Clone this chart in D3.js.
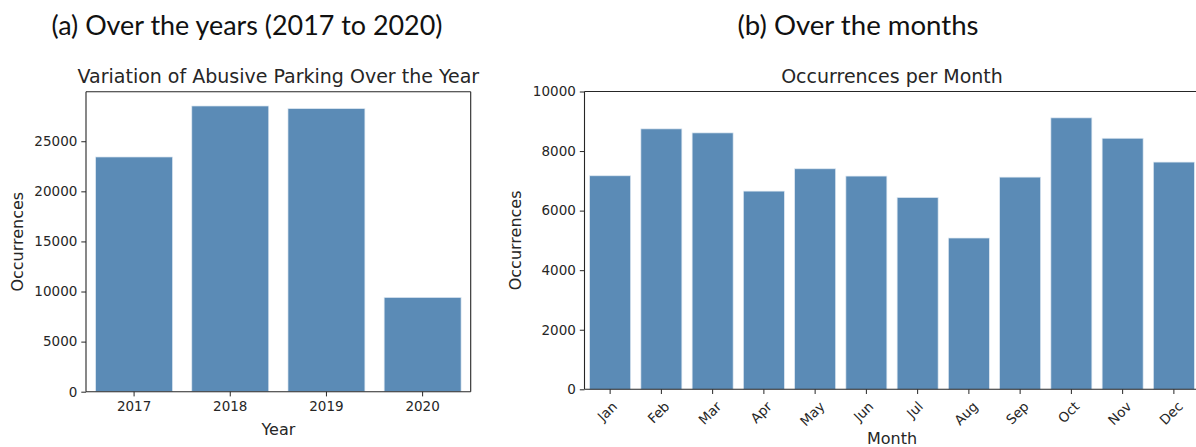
<!DOCTYPE html>
<html>
<head>
<meta charset="utf-8">
<script src="https://cdn.jsdelivr.net/npm/d3@7/dist/d3.min.js"></script>
<style>
  html, body { margin: 0; padding: 0; background: #fff; }
  svg { display: block; }
  .tick text { font-family: "DejaVu Sans", sans-serif; fill: #262626; }
</style>
</head>
<body>
<svg id="fig" width="1196" height="447"></svg>
<script>
// Yearly totals
const years = ["2017", "2018", "2019", "2020"];
const yearCounts = [23430, 28520, 28260, 9410];
const yearTicks = [0, 5000, 10000, 15000, 20000, 25000];

// Monthly totals
const months = ["Jan", "Feb", "Mar", "Apr", "May", "Jun", "Jul", "Aug", "Sep", "Oct", "Nov", "Dec"];
const monthCounts = [7170, 8745, 8610, 6655, 7405, 7160, 6440, 5080, 7125, 9115, 8430, 7630];
const monthTicks = [0, 2000, 4000, 6000, 8000, 10000];

const BAR = "#5b8bb6";
const INK = "#262626";
const svg = d3.select("#fig");

function panel(opts) {
  const { x0, x1, y0, y1, cats, vals, yMax, ticks, title, xLabel, xLabelY,
          yLabelX, rotate, rightSpine } = opts;
  const g = svg.append("g");

  const x = d3.scaleBand().domain(cats).range([x0, x1])
    .paddingInner(0.2).paddingOuter(0.1);
  const y = d3.scaleLinear().domain([0, yMax]).range([y1, y0]);

  // bars
  g.selectAll("rect.bar").data(cats).join("rect")
    .attr("class", "bar")
    .attr("x", d => x(d))
    .attr("width", x.bandwidth())
    .attr("y", (d, i) => y(vals[i]))
    .attr("height", (d, i) => y(0) - y(vals[i]))
    .attr("fill", BAR)
    .attr("stroke", "#dfe9f2")
    .attr("stroke-width", 0.7);

  // y axis
  const ya = g.append("g").attr("transform", `translate(${x0},0)`)
    .call(d3.axisLeft(y).tickValues(ticks).tickSize(4.7).tickPadding(4).tickFormat(d3.format("d")));
  ya.select(".domain").remove();
  ya.selectAll(".tick line").attr("stroke", INK).attr("stroke-width", 1);
  ya.selectAll(".tick text").attr("font-size", 13.5);

  // x axis
  const xa = g.append("g").attr("transform", `translate(0,${y1})`)
    .call(d3.axisBottom(x).tickSize(4.7).tickPadding(5));
  xa.select(".domain").remove();
  xa.selectAll(".tick line").attr("stroke", INK).attr("stroke-width", 1);
  xa.selectAll(".tick text").attr("font-size", 13.5);

  if (rotate) {
    xa.selectAll(".tick text").each(function () {
      const t = d3.select(this);
      const w = this.getComputedTextLength();
      const h = 10;
      const half = (w + h) * Math.SQRT1_2 / 2;
      t.attr("text-anchor", "middle")
        .attr("dy", null)
        .attr("dominant-baseline", "central")
        .attr("y", 0)
        .attr("transform", `translate(-3,${11 + half}) rotate(-45)`);
    });
  }

  // spines
  const sp = g.append("g").attr("fill", "none").attr("stroke", INK).attr("stroke-width", 1.1);
  sp.append("line").attr("x1", x0).attr("x2", x0).attr("y1", y0).attr("y2", y1);
  sp.append("line").attr("x1", x0).attr("x2", x1).attr("y1", y1).attr("y2", y1);
  sp.append("line").attr("x1", x0).attr("x2", x1).attr("y1", y0).attr("y2", y0);
  if (rightSpine) sp.append("line").attr("x1", x1).attr("x2", x1).attr("y1", y0).attr("y2", y1);

  const cx = (x0 + x1) / 2;
  g.append("text").attr("x", cx).attr("y", 83).attr("text-anchor", "middle")
    .attr("font-family", "DejaVu Sans").attr("font-size", 19).attr("fill", INK).text(title);
  g.append("text").attr("x", cx).attr("y", xLabelY).attr("text-anchor", "middle")
    .attr("font-family", "DejaVu Sans").attr("font-size", 16).attr("fill", INK).text(xLabel);
  g.append("text").attr("transform", `translate(${yLabelX},${(y0 + y1) / 2}) rotate(-90)`)
    .attr("text-anchor", "middle").attr("dominant-baseline", "central")
    .attr("font-family", "DejaVu Sans").attr("font-size", 16).attr("fill", INK).text("Occurrences");
}

panel({
  x0: 86, x1: 470.7, y0: 91.7, y1: 391.7,
  cats: years, vals: yearCounts, yMax: d3.max(yearCounts) * 1.05, ticks: yearTicks,
  title: "Variation of Abusive Parking Over the Year", xLabel: "Year", xLabelY: 435,
  yLabelX: 17, rotate: false, rightSpine: true
});

panel({
  x0: 584.5, x1: 1199.5, y0: 91.5, y1: 389.3,
  cats: months, vals: monthCounts, yMax: 10000, ticks: monthTicks,
  title: "Occurrences per Month", xLabel: "Month", xLabelY: 444,
  yLabelX: 515, rotate: true, rightSpine: true
});

// panel captions
svg.append("text").attr("x", 247).attr("y", 34.5).attr("text-anchor", "middle")
  .attr("font-family", "Lato, 'Open Sans', sans-serif").attr("font-size", 26).attr("fill", "#111")
  .attr("textLength", 391).attr("lengthAdjust", "spacingAndGlyphs")
  .text("(a) Over the years (2017 to 2020)");
svg.append("text").attr("x", 858).attr("y", 34.5).attr("text-anchor", "middle")
  .attr("font-family", "Lato, 'Open Sans', sans-serif").attr("font-size", 26).attr("fill", "#111")
  .attr("textLength", 241).attr("lengthAdjust", "spacingAndGlyphs")
  .text("(b) Over the months");
</script>
</body>
</html>
